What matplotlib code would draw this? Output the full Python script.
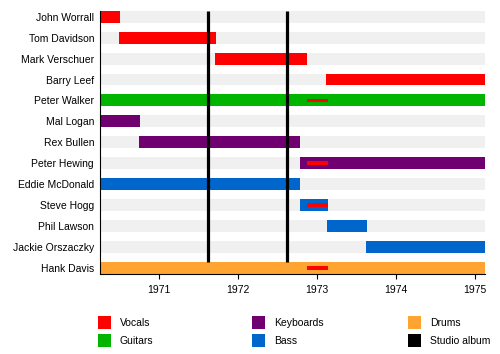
import matplotlib
matplotlib.use("Agg")
import matplotlib.pyplot as plt
from matplotlib.patches import Rectangle

plt.rcParams['font.family'] = ['Liberation Sans', 'DejaVu Sans']

members = ["John Worrall", "Tom Davidson", "Mark Verschuer", "Barry Leef",
           "Peter Walker", "Mal Logan", "Rex Bullen", "Peter Hewing",
           "Eddie McDonald", "Steve Hogg", "Phil Lawson", "Jackie Orszaczky",
           "Hank Davis"]
roles = ["Vocals", "Vocals", "Vocals", "Vocals", "Guitars", "Keyboards",
         "Keyboards", "Keyboards", "Bass", "Bass", "Bass", "Bass", "Drums"]
starts = [1970.25, 1970.49, 1971.71, 1973.12, 1970.25, 1970.25, 1970.75,
          1972.78, 1970.25, 1972.78, 1973.13, 1973.62, 1970.25]
ends = [1970.50, 1971.72, 1972.88, 1975.13, 1975.13, 1970.76, 1972.79,
        1975.13, 1972.79, 1973.14, 1973.63, 1975.13, 1975.13]

# secondary vocals (thin bars)
sec_members = ["Peter Walker", "Peter Hewing", "Steve Hogg", "Hank Davis"]
sec_start = [1972.87, 1972.87, 1972.87, 1972.87]
sec_end = [1973.14, 1973.14, 1973.14, 1973.14]

albums = [1971.62, 1972.62]

role_colors = {"Vocals": "#ff0000", "Guitars": "#00b400", "Keyboards": "#700070",
               "Bass": "#0066cc", "Drums": "#ffa431", "Studio album": "#000000"}
legend_order = [["Vocals", "Guitars"], ["Keyboards", "Bass"], ["Drums", "Studio album"]]

xmin, xmax = 1970.25, 1975.13
years = [1971, 1972, 1973, 1974, 1975]

fig = plt.figure(figsize=(5.0, 3.54), dpi=100)
ax = fig.add_axes([0.2, 0.226, 0.77, 0.7438])
h = 0.57
n = len(members)
for i, m in enumerate(members):
    ax.barh(i, xmax - xmin, left=xmin, height=h, color="#f0f0f0", zorder=1)
for i, m in enumerate(members):
    ax.barh(i, ends[i] - starts[i], left=starts[i], height=h,
            color=role_colors[roles[i]], zorder=2)
for m, s, e in zip(sec_members, sec_start, sec_end):
    i = members.index(m)
    ax.barh(i, e - s, left=s, height=0.18, color="#ff0000", zorder=4)
ax.vlines(albums, -h / 2, (n - 1) - h / 2, color="black", lw=2.3, zorder=3)

ax.set_xlim(xmin, xmax)
ax.set_ylim(n - 1 + h / 2, -h / 2)
ax.set_yticks(range(n))
ax.set_yticklabels(members, fontsize=7.5)
ax.set_xticks(years)
ax.set_xticklabels([str(y) for y in years], fontsize=7.5)
ax.tick_params(axis="y", length=0, pad=4.3)
ax.tick_params(axis="x", length=3.6, width=0.8, pad=4)
for s in ["top", "right"]:
    ax.spines[s].set_visible(False)
for s in ["left", "bottom"]:
    ax.spines[s].set_linewidth(0.8)

# legend
W, H = 500.0, 354.0
col_x = [98, 252, 408]
row_y = [322.5, 340.5]
for c, col in enumerate(legend_order):
    for r, name in enumerate(col):
        x0 = col_x[c]
        yc = row_y[r]
        fig.add_artist(Rectangle((x0 / W, 1 - (yc + 6.5) / H), 12.5 / W, 13 / H,
                                 transform=fig.transFigure, color=role_colors[name], lw=0))
        fig.text((x0 + 22) / W, 1 - yc / H, name, fontsize=7.5, va="center", ha="left")

fig.savefig("out.png", dpi=100)
